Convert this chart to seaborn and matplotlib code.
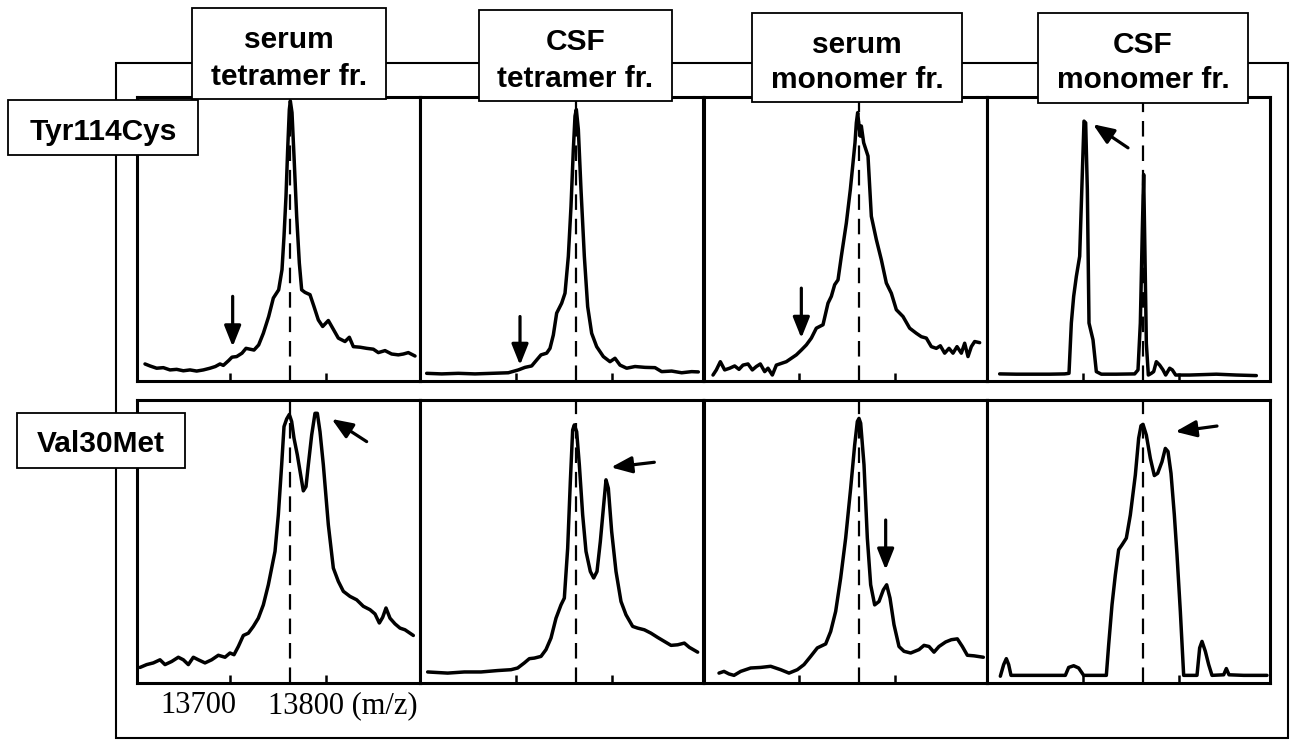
import matplotlib
matplotlib.use("Agg")
import matplotlib.pyplot as plt
from matplotlib.patches import Rectangle
from matplotlib.transforms import blended_transform_factory
import seaborn as sns
import pandas as pd

# ---------------- data (m/z, relative intensity %) ----------------
REF_MZ = 13800
col_titles = [["serum", "tetramer fr."], ["CSF", "tetramer fr."],
              ["serum", "monomer fr."], ["CSF", "monomer fr."]]
row_labels = ["Tyr114Cys", "Val30Met"]
tick_label_left = "13700"
tick_label_right = "13800 (m/z)"

mz_A = [13582.5, 13590, 13600, 13610, 13620, 13630, 13640, 13650, 13660, 13670,
        13680, 13688, 13695, 13700, 13708, 13713, 13720, 13728, 13734, 13740,
        13746, 13753, 13760, 13768, 13775, 13783, 13788, 13791, 13794, 13796.5,
        13799, 13800.5, 13803, 13806, 13810, 13814, 13817.5, 13822.5, 13830, 13836,
        13842.5, 13849, 13857.5, 13865, 13872.5, 13882.5, 13889, 13895, 13905, 13915,
        13925, 13932.5, 13942.5, 13952.5, 13962.5, 13970, 13977.5, 13987.5]
int_A = [6.0, 5.3, 4.5, 4.7, 3.9, 4.1, 3.6, 3.9, 3.5, 3.9,
         4.5, 5.1, 6.0, 5.5, 7.2, 8.4, 8.6, 9.8, 11.5, 11.2,
         10.9, 12.7, 16.8, 22.7, 29.2, 32.1, 39.2, 50.9, 65.1, 81.5,
         95.6, 98.6, 94.5, 79.2, 58.0, 41.5, 32.1, 31.2, 30.4, 26.2,
         21.5, 19.2, 21.3, 18.2, 15.1, 13.9, 15.4, 12.1, 11.9, 11.5,
         11.2, 10.0, 10.7, 9.5, 9.2, 9.5, 10.0, 8.8]

mz_B = [13576, 13598.5, 13623.5, 13648.5, 13673.5, 13698.5, 13713.5, 13723.5, 13733.5, 13741,
        13747.5, 13756, 13761, 13766, 13771, 13778.5, 13783.5, 13788.5, 13792.5, 13796,
        13798.5, 13800.5, 13803.5, 13807.5, 13812.5, 13817.5, 13823.5, 13831, 13841, 13851,
        13858.5, 13866, 13876, 13888.5, 13903.5, 13918.5, 13928.5, 13943.5, 13958.5, 13973.5,
        13983.5]
int_B = [2.7, 2.5, 2.7, 2.5, 2.7, 2.9, 3.9, 4.8, 5.3, 7.4,
         9.2, 9.8, 11.5, 16.2, 23.9, 27.4, 30.9, 43.9, 61.5, 81.5,
         93.3, 95.6, 88.6, 67.4, 43.9, 26.2, 16.8, 12.1, 8.6, 6.8,
         8.0, 5.6, 4.5, 5.1, 4.8, 4.7, 3.3, 3.5, 2.9, 3.3,
         3.2]

mz_C = [13581, 13586, 13592, 13598.5, 13606, 13613.5, 13620, 13626, 13633.5, 13640,
        13646, 13652, 13658.5, 13663.5, 13670, 13676, 13683.5, 13691, 13698.5, 13706,
        13713.5, 13721, 13728.5, 13736, 13746, 13753.5, 13758.5, 13763.5, 13768.5, 13773.5,
        13781, 13787, 13791, 13794, 13796, 13798, 13800, 13802, 13803.5, 13807,
        13813.5, 13818.5, 13826, 13833.5, 13841, 13848.5, 13856, 13866, 13876, 13886,
        13893.5, 13901, 13908.5, 13916, 13922, 13928.5, 13935, 13941, 13947, 13953.5,
        13958.5, 13963.5, 13968.5, 13973.5, 13981]
int_C = [2.1, 3.9, 6.8, 3.9, 4.5, 5.3, 4.1, 5.6, 6.0, 3.9,
         5.1, 6.0, 3.3, 4.5, 2.1, 5.6, 6.2, 6.8, 8.0, 9.2,
         10.9, 12.7, 15.1, 18.6, 19.8, 27.4, 29.8, 33.9, 35.6, 43.9,
         55.6, 67.4, 76.8, 83.9, 90.9, 94.5, 89.8, 86.2, 89.8, 83.9,
         79.2, 58.0, 49.8, 42.7, 34.5, 30.9, 25.1, 22.7, 18.6, 16.8,
         15.6, 15.1, 12.1, 11.5, 12.4, 9.8, 11.5, 9.8, 12.1, 9.8,
         13.3, 8.6, 12.1, 13.9, 13.5]

mz_D = [13585, 13610, 13635, 13660, 13682.5, 13689, 13692.5, 13696, 13700, 13705,
        13709, 13711.5, 13714, 13716.5, 13719, 13725, 13730, 13737.5, 13760, 13787.5,
        13792.5, 13796, 13799, 13801, 13803, 13805, 13808, 13812.5, 13816, 13820,
        13825, 13830, 13834, 13840, 13844, 13849, 13870, 13910, 13940, 13970]
int_D = [2.5, 2.4, 2.4, 2.4, 2.5, 2.7, 20.4, 29.8, 36.8, 43.9,
         73.3, 91.5, 90.9, 67.4, 20.4, 14.5, 3.3, 2.4, 2.4, 2.5,
         3.9, 20.4, 53.3, 72.7, 43.9, 13.3, 2.1, 2.7, 3.3, 6.8,
         5.6, 3.9, 2.1, 4.5, 3.9, 2.1, 2.1, 2.4, 2.1, 1.9]

mz_E = [13575, 13585, 13595, 13605, 13612.5, 13622.5, 13632.5, 13640, 13647.5, 13655,
        13662.5, 13672.5, 13682.5, 13692.5, 13702.5, 13710, 13716, 13722.5, 13730, 13737.5,
        13745, 13752.5, 13760, 13767.5, 13772.5, 13777.5, 13782.5, 13787.5, 13791, 13795,
        13799, 13802.5, 13806, 13811, 13816, 13820, 13824, 13827.5, 13832.5, 13837.5,
        13841, 13845, 13850, 13857.5, 13865, 13872.5, 13880, 13890, 13900, 13910,
        13920, 13927.5, 13934, 13939, 13944, 13950, 13957.5, 13965, 13972.5, 13985]
int_E = [5.5, 6.5, 7.1, 8.2, 6.5, 7.6, 9.1, 8.2, 6.5, 9.1,
         8.2, 7.1, 8.2, 9.8, 9.1, 10.6, 10.0, 12.9, 16.8, 17.6,
         20.0, 22.9, 27.6, 34.7, 40.6, 46.5, 59.4, 77.1, 90.6, 93.3,
         94.9, 92.4, 86.5, 80.6, 73.5, 67.9, 69.4, 77.1, 87.6, 95.3,
         95.3, 88.8, 77.1, 55.9, 40.6, 35.9, 32.4, 30.6, 29.4, 27.1,
         25.9, 24.4, 21.2, 23.2, 26.5, 22.9, 20.9, 19.4, 18.8, 16.8]

mz_F = [13577.5, 13607.5, 13632.5, 13657.5, 13682.5, 13702.5, 13712.5, 13722.5, 13730, 13737.5,
        13747.5, 13755, 13762.5, 13770, 13777.5, 13782.5, 13787.5, 13791.5, 13795, 13797.5,
        13801, 13805, 13810, 13815, 13821.5, 13826.5, 13831.5, 13836.5, 13841.5, 13845,
        13848.5, 13853.5, 13860, 13867.5, 13875, 13885, 13892.5, 13902.5, 13912.5, 13922.5,
        13932.5, 13942.5, 13952.5, 13962.5, 13970, 13982.5]
int_F = [3.9, 3.5, 3.9, 3.9, 4.4, 4.7, 5.3, 7.1, 8.6, 8.8,
         9.4, 11.8, 15.9, 22.9, 27.6, 30.0, 47.6, 71.2, 89.4, 91.2,
         88.8, 77.1, 59.4, 46.5, 39.4, 37.1, 39.4, 50.0, 62.9, 71.8,
         68.8, 53.5, 39.4, 28.8, 24.1, 20.0, 19.4, 18.8, 17.6, 16.1,
         14.7, 13.3, 13.5, 14.1, 12.6, 10.9]

mz_G = [13590, 13597.5, 13605, 13612.5, 13622.5, 13637.5, 13652.5, 13667.5, 13682.5, 13695,
        13707.5, 13717.5, 13727.5, 13737.5, 13750, 13757.5, 13765, 13772.5, 13780, 13787.5,
        13793.5, 13797.5, 13800, 13802.5, 13807.5, 13812.5, 13817.5, 13823.5, 13830, 13836.5,
        13841.5, 13846.5, 13852.5, 13860, 13867.5, 13877.5, 13890, 13897.5, 13905, 13912.5,
        13920, 13930, 13938.5, 13947.5, 13955, 13962.5, 13972.5, 13986.5]
int_G = [3.5, 4.1, 3.2, 2.7, 4.1, 5.3, 5.5, 5.9, 4.7, 3.5,
         4.7, 6.5, 9.4, 12.4, 13.8, 18.2, 25.3, 37.1, 51.2, 68.8,
         84.1, 92.4, 93.5, 91.8, 77.1, 51.2, 34.7, 27.6, 28.8, 32.9,
         34.7, 30.0, 20.6, 12.9, 11.2, 10.6, 11.8, 13.3, 12.9, 10.9,
         12.9, 14.5, 15.3, 15.6, 12.9, 9.8, 9.6, 9.1]

mz_H = [13586, 13591, 13595, 13598.5, 13602, 13626, 13651, 13683.5, 13688.5, 13696,
        13703.5, 13711, 13731, 13745, 13748.5, 13753.5, 13758.5, 13763.5, 13768.5, 13775,
        13781, 13788.5, 13793.5, 13797, 13800, 13805, 13811, 13817, 13822, 13828.5,
        13833.5, 13837.5, 13842, 13847, 13851, 13856, 13861, 13871, 13881, 13885,
        13888.5, 13893.5, 13898.5, 13903.5, 13921, 13925, 13929, 13951, 13986]
int_H = [2.4, 6.5, 8.6, 6.5, 2.7, 2.7, 2.7, 2.7, 5.5, 6.1,
         5.3, 2.7, 2.7, 2.7, 13.5, 27.6, 38.2, 47.1, 48.8, 51.2,
         59.4, 73.5, 86.5, 90.9, 91.4, 87.6, 79.4, 73.3, 74.1, 78.2,
         82.9, 81.8, 74.1, 59.4, 45.3, 25.3, 2.7, 2.7, 2.7, 12.4,
         14.7, 11.2, 6.5, 2.7, 2.9, 5.1, 2.9, 2.7, 2.7]

# arrows: (tail m/z, tail intensity, tip m/z, tip intensity)
arrow_A = (13714, 29.8, 13714, 12.1)
arrow_B = (13716, 22.7, 13716, 5.6)
arrow_C = (13713.5, 32.7, 13713.5, 15.1)
arrow_D = (13777.5, 82.1, 13725, 90.4)
arrow_E = (13915, 85.3, 13862.5, 93.3)
arrow_F = (13917.5, 78.0, 13852.5, 76.2)
arrow_G = (13840, 57.6, 13840, 40.0)
arrow_H = (13911, 90.8, 13848.5, 88.8)

minor_ticks = [13710, 13854]

spectra = [[(mz_A, int_A, arrow_A), (mz_B, int_B, arrow_B), (mz_C, int_C, arrow_C), (mz_D, int_D, arrow_D)],
           [(mz_E, int_E, arrow_E), (mz_F, int_F, arrow_F), (mz_G, int_G, arrow_G), (mz_H, int_H, arrow_H)]]

# ---------------- style / layout ----------------
sns.set_theme(style="white")
plt.rcParams["font.family"] = ["Liberation Sans", "DejaVu Sans"]
plt.rcParams["text.color"] = "black"

W, H = 1292, 740
fig = plt.figure(figsize=(W / 100, H / 100), dpi=100)

def fx(px):
    return px / W

def fy(py):
    return 1 - py / H

col_left = [137, 420, 704, 987]
col_dash = [153, 156, 155, 156]   # px from panel left to reference line
panel_w = 283
row_top = [97, 400]
row_h = [284, 283]
mz_per_px = 1.5

# outer frame
fig.add_artist(Rectangle((fx(116), fy(738)), fx(1288) - fx(116), fy(63) - fy(738),
                         transform=fig.transFigure, fill=False, ec="black", lw=1.5, zorder=1))

axes = []
for r in range(2):
    for c in range(4):
        ax = fig.add_axes([fx(col_left[c]), fy(row_top[r] + row_h[r]), fx(panel_w), row_h[r] / H])
        mz, inten, arr = spectra[r][c]
        df = pd.DataFrame({"mz": mz, "intensity": inten})
        ax.axvline(REF_MZ, color="black", lw=1.6, ls=(0, (7, 4)), zorder=1)
        sns.lineplot(data=df, x="mz", y="intensity", ax=ax, color="black", lw=2.5,
                     sort=False, estimator=None, legend=False, zorder=3)
        ax.annotate("", xy=(arr[2], arr[3]), xytext=(arr[0], arr[1]),
                    arrowprops=dict(arrowstyle="-|>,head_length=0.7,head_width=0.28",
                                    color="black", lw=2.3, shrinkA=0, shrinkB=0,
                                    mutation_scale=18), zorder=4)
        left = REF_MZ - col_dash[c] * mz_per_px
        ax.set_xlim(left, left + panel_w * mz_per_px)
        ax.set_ylim(0, 100)
        ax.set_xticks(minor_ticks)
        ax.set_xticklabels([])
        ax.set_yticks([])
        ax.tick_params(axis="x", direction="in", length=6, width=1.8, color="black",
                       bottom=True, top=False)
        ax.set_xlabel("")
        ax.set_ylabel("")
        for s in ax.spines.values():
            s.set_visible(True)
            s.set_color("black")
            s.set_linewidth(2.2)
        ax.set_facecolor("white")
        axes.append(ax)

# tick labels under first bottom panel
axE = axes[4]
tr = blended_transform_factory(axE.transData, axE.transAxes)
serif = ["Liberation Serif", "DejaVu Serif"]
axE.text(13605, -0.106, tick_label_left, transform=tr, ha="left", va="baseline",
         fontsize=22, family=serif, color="black", clip_on=False)
axE.text(13767, -0.106, tick_label_right, transform=tr, ha="left", va="baseline",
         fontsize=22, family=serif, color="black", clip_on=False)

# header boxes
hdr_boxes = [(192, 386, 8, 99, 48, 85), (479, 672, 10, 101, 50, 87),
             (752, 962, 13, 102, 53, 88), (1038, 1248, 13, 103, 53, 88)]
for (x0, x1, y0, y1, b1, b2), lines in zip(hdr_boxes, col_titles):
    fig.add_artist(Rectangle((fx(x0), fy(y1)), fx(x1) - fx(x0), fy(y0) - fy(y1),
                             transform=fig.transFigure, fc="white", ec="black", lw=1.3, zorder=5))
    cx = fx((x0 + x1) / 2)
    fig.text(cx, fy(b1), lines[0], ha="center", va="baseline", fontsize=21.5,
             fontweight="bold", color="black", zorder=6)
    fig.text(cx, fy(b2), lines[1], ha="center", va="baseline", fontsize=21.5,
             fontweight="bold", color="black", zorder=6)

# row label boxes
row_boxes = [(8, 198, 100, 155, 140), (17, 185, 413, 468, 452)]
for (x0, x1, y0, y1, b), lab in zip(row_boxes, row_labels):
    fig.add_artist(Rectangle((fx(x0), fy(y1)), fx(x1) - fx(x0), fy(y0) - fy(y1),
                             transform=fig.transFigure, fc="white", ec="black", lw=1.3, zorder=5))
    fig.text(fx((x0 + x1) / 2), fy(b), lab, ha="center", va="baseline", fontsize=21.5,
             fontweight="bold", color="black", zorder=6)

fig.savefig("out.png", dpi=100, facecolor="white")
